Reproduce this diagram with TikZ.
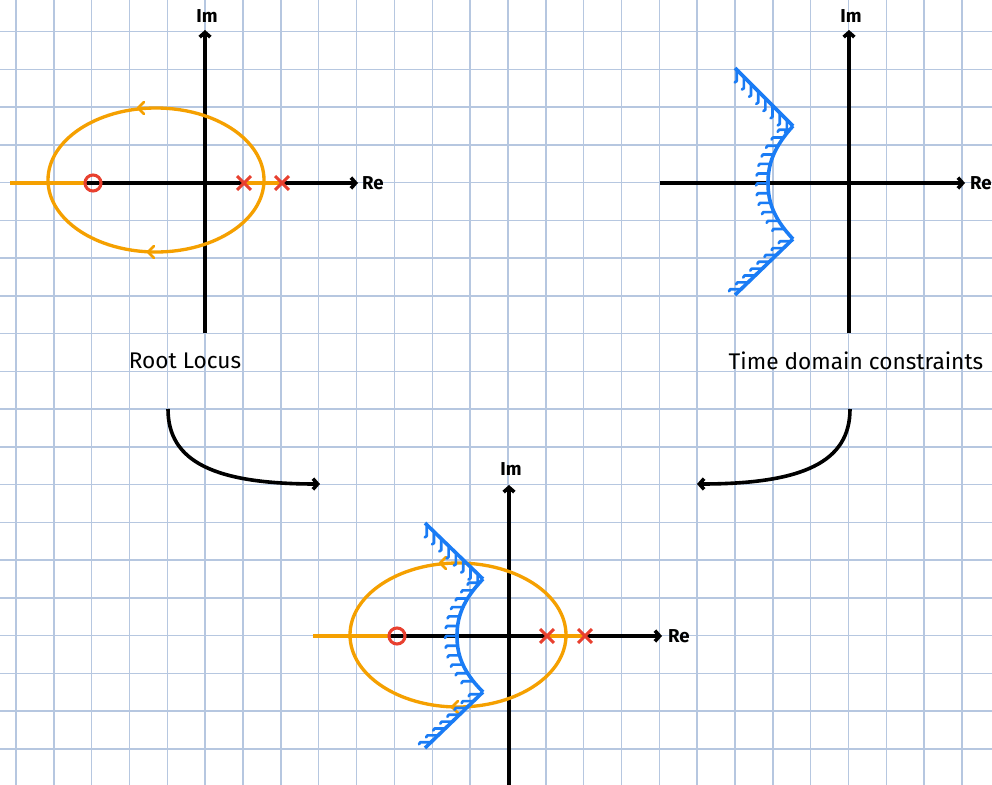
\documentclass[tikz,border=0pt]{standalone}
\usepackage{fontspec}
\setmainfont{Fira Sans}
\usetikzlibrary{arrows.meta,decorations.markings}
\definecolor{gridc}{RGB}{182,199,224}
\definecolor{locus}{RGB}{245,160,0}
\definecolor{pz}{RGB}{232,64,47}
\definecolor{cons}{RGB}{26,124,245}
\tikzset{
  gridline/.style={gridc,line width=1.1pt},
  axis/.style={black,line width=2.7pt,-{Straight Barb[length=3.5pt,width=8pt]}},
  axisplain/.style={black,line width=2.7pt},
  locusline/.style={locus,line width=2.5pt},
  chev/.style={locus,line width=2pt,line cap=round,line join=round},
  pole/.style={pz,line width=2.3pt},
  consline/.style={cons,line width=2.7pt,line join=round},
  hatchdown/.style={postaction={decorate,decoration={markings,
     mark=between positions 0.03 and 0.99 step 7.6pt with {\pgftransformresetnontranslations
       \draw[cons,line width=2pt,line cap=round,line join=round] (0,0) -- (0pt,-8.5pt) -- (-1.5pt,-9.5pt);}}}},
  hatchleft/.style={postaction={decorate,decoration={markings,
     mark=between positions 0.04 and 0.96 step 7.4pt with {\pgftransformresetnontranslations
       \draw[cons,line width=2pt,line cap=round,line join=round] (0,0) -- (-8pt,0pt) -- (-9pt,-1.5pt);}}}},
  axlabel/.style={font=\fontsize{14}{16}\selectfont\bfseries},
  caption/.style={font=\fontsize{17}{20}\selectfont},
  link/.style={black,line width=2.7pt,-{Straight Barb[length=3.5pt,width=8pt]}}
}
\begin{document}
\begin{tikzpicture}[x=0.75pt,y=-0.75pt]
\useasboundingbox (0,0) rectangle (992,785);
\fill[white] (0,0) rectangle (992,785);
% grid
\foreach \k in {0,...,25} \draw[gridline] ({16+37.84*\k},0) -- ({16+37.84*\k},785);
\foreach \j in {0,...,19} \draw[gridline] (0,{31.6+37.75*\j}) -- (992,{31.6+37.75*\j});

% ---------- Diagram 1: root locus ----------
\begin{scope}[shift={(205,183)}]
  \coordinate (o1) at (0,0);
  \coordinate (o1l) at (-195,0);
  \coordinate (o1r) at (153,0);
  \coordinate (o1b) at (0,150);
  \coordinate (o1t) at (0,-153);
  \draw[axisplain] (o1l) -- (o1);
  \draw[axis] (o1) -- (o1r);
  \draw[axis] (o1b) -- (o1t);
  \node[axlabel] (im1) at (2,-167) {Im};
  \node[axlabel] (re1) at (168,0) {Re};
  \draw[locusline] (-49,-3) ellipse [x radius=108, y radius=72];
  \draw[locusline] (o1l) -- (-120,0);
  \draw[locusline] (39,0) -- (77,0);
  \draw[chev] (-61,-81) -- (-67,-75) -- (-61,-69);
  \draw[chev] (-51,63) -- (-57,69) -- (-51,75);
  \node[circle,draw=pz,line width=2.3pt,minimum size=12pt,inner sep=0pt] (z1) at (-112,0) {};
  \node[inner sep=0pt,minimum size=10pt] (p1a) at (39,0) {};
  \node[inner sep=0pt,minimum size=10pt] (p1b) at (77,0) {};
  \draw[pole] (p1a.north west) -- (p1a.south east) (p1a.north east) -- (p1a.south west);
  \draw[pole] (p1b.north west) -- (p1b.south east) (p1b.north east) -- (p1b.south west);
\end{scope}
\node[caption] (rl) at (185,361) {Root Locus};

% ---------- Diagram 2: time domain constraints ----------
\begin{scope}[shift={(849,183)}]
  \coordinate (o2) at (0,0);
  \coordinate (o2l) at (-189,0);
  \coordinate (o2r) at (116,0);
  \coordinate (o2b) at (0,150);
  \coordinate (o2t) at (0,-153);
  \draw[axis] (o2l) -- (o2r);
  \draw[axis] (o2b) -- (o2t);
  \node[axlabel] (im2) at (2,-167) {Im};
  \node[axlabel] (re2) at (132,0) {Re};
  \coordinate (c2a) at (-114,-115);
  \coordinate (c2b) at (-56,-57);
  \coordinate (c2c) at (-56,56);
  \coordinate (c2d) at (-114,112);
  \draw[consline,hatchdown] (c2a) -- (c2b);
  \draw[consline,hatchleft] (c2b) .. controls (-76,-35) and (-81,-18) .. (-81,0)
        .. controls (-81,18) and (-76,35) .. (c2c);
  \draw[consline,hatchleft] (c2c) -- (c2d);
\end{scope}
\node[caption] (tdc) at (856,361) {Time domain constraints};

% ---------- Diagram 3: combined ----------
\begin{scope}[shift={(509,636)}]
  \coordinate (o3) at (0,0);
  \coordinate (o3l) at (-196,0);
  \coordinate (o3r) at (153,0);
  \coordinate (o3b) at (0,152);
  \coordinate (o3t) at (0,-151);
  \draw[axisplain] (o3l) -- (o3);
  \draw[axis] (o3) -- (o3r);
  \draw[axis] (o3b) -- (o3t);
  \node[axlabel] (im3) at (2,-167) {Im};
  \node[axlabel] (re3) at (170,0) {Re};
  \draw[locusline] (-51,-1) ellipse [x radius=108, y radius=72];
  \draw[locusline] (o3l) -- (-120,0);
  \draw[locusline] (38,0) -- (76,0);
  \draw[chev] (-63,-79) -- (-69,-73) -- (-63,-67);
  \draw[chev] (-51,65) -- (-57,71) -- (-51,77);
  \coordinate (c3a) at (-84,-113);
  \coordinate (c3b) at (-26,-57);
  \coordinate (c3c) at (-26,56);
  \coordinate (c3d) at (-84,112);
  \draw[consline,hatchdown] (c3a) -- (c3b);
  \draw[consline,hatchleft] (c3b) .. controls (-47,-35) and (-52,-18) .. (-52,0)
        .. controls (-52,18) and (-47,35) .. (c3c);
  \draw[consline,hatchleft] (c3c) -- (c3d);
  \node[circle,draw=pz,line width=2.3pt,minimum size=12pt,inner sep=0pt] (z3) at (-112,0) {};
  \node[inner sep=0pt,minimum size=10pt] (p3a) at (38,0) {};
  \node[inner sep=0pt,minimum size=10pt] (p3b) at (76,0) {};
  \draw[pole] (p3a.north west) -- (p3a.south east) (p3a.north east) -- (p3a.south west);
  \draw[pole] (p3b.north west) -- (p3b.south east) (p3b.north east) -- (p3b.south west);
\end{scope}

% ---------- connectors ----------
\coordinate (l1s) at (168,409);
\coordinate (l1e) at (320,484);
\coordinate (l2s) at (850,409);
\coordinate (l2e) at (697,484);
\draw[link] (l1s) .. controls (168,462) and (215,484) .. (l1e);
\draw[link] (l2s) .. controls (850,462) and (803,484) .. (l2e);
\end{tikzpicture}
\end{document}
